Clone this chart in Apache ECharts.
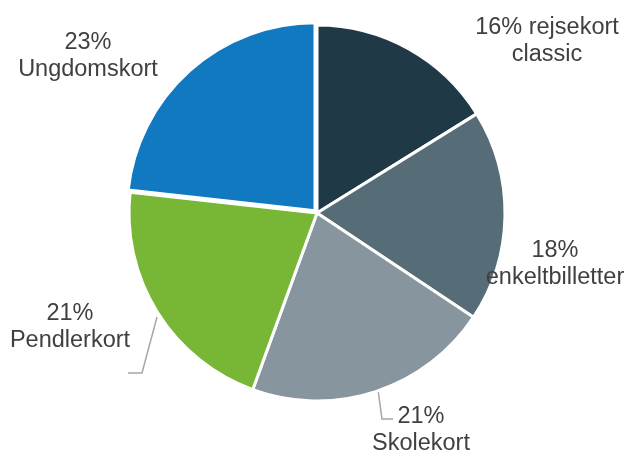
<!DOCTYPE html>
<html>
<head>
<meta charset="utf-8">
<script src="https://cdn.jsdelivr.net/npm/echarts@6/dist/echarts.min.js"></script>
<style>
html,body{margin:0;padding:0;background:#fff;}
#chart{width:636px;height:452px;}
</style>
</head>
<body>
<div id="chart"></div>
<script>
// Data
var categories = ['rejsekort classic', 'enkeltbilletter', 'Skolekort', 'Pendlerkort', 'Ungdomskort'];
var categoryLabels = ['rejsekort\nclassic', 'enkeltbilletter', 'Skolekort', 'Pendlerkort', 'Ungdomskort'];
var values = [16, 18, 21, 21, 23];
var percentSeparators = [' ', '\n', '\n', '\n', '\n'];

// Style
var colors = ['#1f3a46', '#566d78', '#87959e', '#78b735', '#1079bf'];
var explodedIndex = 4;
var labelPos = [
  {x: 547, y: 41},
  {x: 555, y: 264},
  {x: 421, y: 430},
  {x: 70, y: 327},
  {x: 88, y: 56}
];
var linePoints = [
  null,
  null,
  [[378, 390], [382, 419], [393, 419]],
  [[157, 317], [142, 373], [128, 373]],
  null
];

var chart = echarts.init(document.getElementById('chart'), null, {renderer: 'canvas'});

// main series: all slices except the exploded one, plus all labels
var mainData = categories.map(function (c, i) {
  return {
    name: c,
    value: values[i],
    itemStyle: i === explodedIndex
      ? {color: 'rgba(0,0,0,0)', borderWidth: 0}
      : {color: colors[i]},
    labelLine: {show: !!linePoints[i]}
  };
});
// exploded slice series: same values, only the exploded slice visible
var explodedData = categories.map(function (c, i) {
  return {
    name: c,
    value: values[i],
    itemStyle: i === explodedIndex
      ? {color: colors[i]}
      : {color: 'rgba(0,0,0,0)', borderWidth: 0}
  };
});

chart.setOption({
  animation: false,
  backgroundColor: '#ffffff',
  series: [{
    type: 'pie',
    center: [317, 213],
    radius: 188,
    startAngle: 90,
    clockwise: true,
    silent: true,
    avoidLabelOverlap: false,
    data: mainData,
    itemStyle: {borderColor: '#ffffff', borderWidth: 3},
    label: {
      show: true,
      position: 'outside',
      overflow: 'none',
      fontFamily: 'Liberation Sans, Arial, sans-serif',
      fontSize: 23.5,
      lineHeight: 27,
      color: '#404040',
      align: 'center',
      formatter: function (p) {
        return Math.round(p.percent) + '%' + percentSeparators[p.dataIndex] + categoryLabels[p.dataIndex];
      }
    },
    labelLine: {
      show: true,
      lineStyle: {color: '#a6a6a6', width: 1.5}
    },
    labelLayout: function (params) {
      var i = params.dataIndex;
      var r = {
        x: labelPos[i].x,
        y: labelPos[i].y,
        align: 'center',
        verticalAlign: 'middle'
      };
      if (linePoints[i]) r.labelLinePoints = linePoints[i];
      return r;
    }
  }, {
    type: 'pie',
    center: [315, 210.8],
    radius: 188,
    startAngle: 90,
    clockwise: true,
    silent: true,
    data: explodedData,
    itemStyle: {borderColor: '#ffffff', borderWidth: 3},
    label: {show: false},
    labelLine: {show: false}
  }]
});
</script>
</body>
</html>
